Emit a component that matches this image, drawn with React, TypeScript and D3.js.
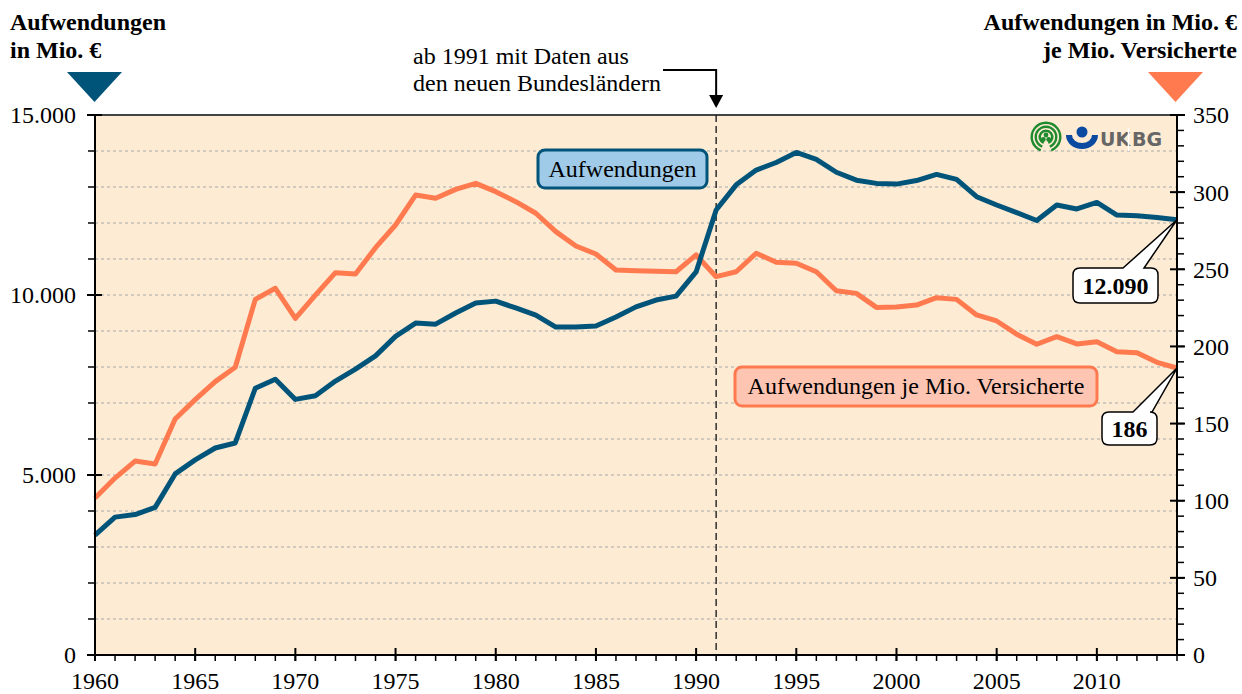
import React from "react";
import * as d3 from "d3";

const years: number[] = d3.range(1960, 2015);
const aufwendungen: number[] = [
  3330, 3830, 3900, 4100, 5030, 5420, 5750, 5890, 7410, 7660,
  7100, 7200, 7610, 7940, 8310, 8850, 9220, 9190, 9500, 9780,
  9830, 9640, 9440, 9110, 9110, 9140, 9390, 9670, 9860, 9970,
  10640, 12360, 13060, 13470, 13680, 13960, 13770, 13410, 13190, 13100,
  13080, 13180, 13350, 13210, 12730, 12500, 12290, 12070, 12500, 12390,
  12570, 12220, 12200, 12150, 12090,
];
const jeVersicherte: number[] = [
  101.8, 114.7, 125.7, 123.8, 153, 165.5, 177.2, 186.5, 230.5, 237.7,
  218.2, 233.3, 247.8, 246.9, 264, 278.7, 298.1, 296, 301.8, 305.7,
  300.3, 293.8, 286.3, 274.4, 265.1, 259.9, 249.5, 249.1, 248.7, 248.4,
  259.3, 245.2, 248.4, 260.4, 254.5, 253.9, 248.4, 236.1, 234.4, 225.3,
  225.5, 226.8, 231.6, 230.5, 220.4, 216.5, 207.9, 201.4, 206.3, 201.6,
  203.1, 196.6, 195.9, 189.7, 186,
];
const leftTicks: number[] = [0, 5000, 10000, 15000];
const leftMinor: number[] = d3.range(0, 15001, 1000);
const rightTicks: number[] = [0, 50, 100, 150, 200, 250, 300, 350];
const rightMinor: number[] = d3.range(0, 351, 10);
const xLabels: number[] = [1960, 1965, 1970, 1975, 1980, 1985, 1990, 1995, 2000, 2005, 2010];
const markerYear = 1991;
const lastBlueLabel = "12.090";
const lastOrangeLabel = "186";

const BLUE = "#00547a";
const ORANGE = "#ff7a4f";
const BG = "#fdebd3";
const FONT = "'Liberation Serif', 'Times New Roman', serif";

const de = d3.formatLocale({ decimal: ",", thousands: ".", grouping: [3], currency: ["", "€"] });
const fmt = de.format(",");

const L = 95, R = 1177, T = 115, B = 655;

function callout(x0: number, y0: number, x1: number, y1: number, a: number, b: number, tx: number, ty: number, r = 7) {
  return `M${x0 + r},${y0} L${a},${y0} L${tx},${ty} L${b},${y0} L${x1 - r},${y0} Q${x1},${y0} ${x1},${y0 + r} L${x1},${y1 - r} Q${x1},${y1} ${x1 - r},${y1} L${x0 + r},${y1} Q${x0},${y1} ${x0},${y1 - r} L${x0},${y0 + r} Q${x0},${y0} ${x0 + r},${y0} Z`;
}

export default function App() {
  const x = d3.scaleLinear().domain([1960, 2014]).range([L, R]);
  const yL = d3.scaleLinear().domain([0, 15000]).range([B, T]);
  const yR = d3.scaleLinear().domain([0, 350]).range([B, T]);

  const blueLine = d3.line<number>().x((_, i) => x(years[i])).y((d) => yL(d))(aufwendungen) || "";
  const orangeLine = d3.line<number>().x((_, i) => x(years[i])).y((d) => yR(d))(jeVersicherte) || "";

  const lastX = x(years[years.length - 1]);
  const lastBY = yL(aufwendungen[aufwendungen.length - 1]);
  const lastOY = yR(jeVersicherte[jeVersicherte.length - 1]);
  const mx = x(markerYear);

  const fs = 24;

  return (
    <svg width={1242} height={694} style={{ position: "absolute", left: 0, top: 0, background: "#fff" }} fontFamily={FONT}>
      {/* plot background */}
      <rect x={L} y={T} width={R - L} height={B - T} fill={BG} />
      {/* gridlines */}
      {leftMinor.filter((v) => v > 0 && v < 15000).map((v) => (
        <line key={"g" + v} x1={L} x2={R} y1={yL(v)} y2={yL(v)} stroke="#aaa" strokeWidth={1.2} strokeDasharray="3,3" />
      ))}
      {/* top border */}
      <line x1={L} x2={R} y1={T} y2={T} stroke="#444" strokeWidth={2} />

      {/* vertical dashed marker */}
      <line x1={mx} x2={mx} y1={T} y2={B} stroke="#222" strokeWidth={1.4} strokeDasharray="7,4" />

      {/* logo */}
      <g>
        {[15.5, 11.5, 7.5].map((r, i) => (
          <path key={"ring" + i}
            d={d3.arc()({ innerRadius: r - 2.4, outerRadius: r, startAngle: -Math.PI * 0.88, endAngle: Math.PI * 0.88 }) || ""}
            transform="translate(1046,137)" fill="#1f8a2e" />
        ))}
        <circle cx={1046} cy={135} r={2.4} fill="#1f8a2e" />
        <circle cx={1043.3} cy={139.5} r={2.4} fill="#1f8a2e" />
        <circle cx={1048.7} cy={139.5} r={2.4} fill="#1f8a2e" />
        <circle cx={1082} cy={132} r={5.5} fill="#0a4aa0" />
        <path d="M1066,135 A16,14 0 0 0 1098,135 L1092,135 A10,8 0 0 1 1072,135 Z" fill="#0a4aa0" />
        <text x={1100} y={146} fontFamily="'DejaVu Sans', sans-serif" fontWeight="bold" fontSize={19} fill="#666">UK</text>
        <line x1={1128.5} x2={1128.5} y1={128} y2={151} stroke="#fff" strokeWidth={1.5} />
        <text x={1132} y={146} fontFamily="'DejaVu Sans', sans-serif" fontWeight="bold" fontSize={19} fill="#666">BG</text>
      </g>

      {/* lines */}
      <path d={orangeLine} fill="none" stroke={ORANGE} strokeWidth={5} strokeLinejoin="round" />
      <path d={blueLine} fill="none" stroke={BLUE} strokeWidth={5} strokeLinejoin="round" />

      {/* left axis */}
      <line x1={L} x2={L} y1={T} y2={B} stroke="#000" strokeWidth={2} />
      {leftMinor.map((v) => (
        <line key={"lm" + v} x1={L - 7} x2={L} y1={yL(v)} y2={yL(v)} stroke="#000" strokeWidth={1.5} />
      ))}
      {leftTicks.map((v) => (
        <g key={"lt" + v}>
          <line x1={L - 8} x2={L + 7} y1={yL(v)} y2={yL(v)} stroke="#000" strokeWidth={2} />
          <text x={76} y={yL(v)} dy="0.35em" textAnchor="end" fontSize={fs}>{fmt(v)}</text>
        </g>
      ))}

      {/* right axis */}
      <line x1={R} x2={R} y1={T} y2={B} stroke="#000" strokeWidth={2} />
      {rightMinor.map((v) => (
        <line key={"rm" + v} x1={R} x2={R + 7} y1={yR(v)} y2={yR(v)} stroke="#000" strokeWidth={1.5} />
      ))}
      {rightTicks.map((v) => (
        <g key={"rt" + v}>
          <line x1={R - 7} x2={R + 8} y1={yR(v)} y2={yR(v)} stroke="#000" strokeWidth={2} />
          <text x={1193} y={yR(v)} dy="0.35em" textAnchor="start" fontSize={fs}>{v}</text>
        </g>
      ))}

      {/* bottom axis */}
      <line x1={L} x2={R} y1={B} y2={B} stroke="#000" strokeWidth={2} />
      {years.map((yr) => (
        <line key={"xm" + yr} x1={x(yr)} x2={x(yr)} y1={B} y2={B + 6} stroke="#000" strokeWidth={1.5} />
      ))}
      {xLabels.map((yr) => (
        <g key={"xl" + yr}>
          <line x1={x(yr)} x2={x(yr)} y1={B - 7} y2={B + 6} stroke="#000" strokeWidth={2} />
          <text x={x(yr)} y={689} textAnchor="middle" fontSize={fs}>{yr}</text>
        </g>
      ))}

      {/* series labels */}
      <rect x={538} y={150} width={169} height={38} rx={7} fill="#9fcae8" stroke={BLUE} strokeWidth={3} />
      <text x={622.5} y={177} textAnchor="middle" fontSize={fs}>Aufwendungen</text>
      <rect x={735} y={367} width={362} height={39} rx={7} fill="#ffc5b3" stroke={ORANGE} strokeWidth={3} />
      <text x={916} y={394} textAnchor="middle" fontSize={fs}>Aufwendungen je Mio. Versicherte</text>

      {/* callouts */}
      <path d={callout(1073, 268, 1158, 303, 1123, 1144, lastX, lastBY)} fill="#fff" stroke="#000" strokeWidth={1.5} />
      <text x={1115.5} y={294} textAnchor="middle" fontSize={fs} fontWeight="bold">{lastBlueLabel}</text>
      <path d={callout(1102, 412, 1157, 445, 1133, 1152, lastX, lastOY)} fill="#fff" stroke="#000" strokeWidth={1.5} />
      <text x={1129.5} y={437} textAnchor="middle" fontSize={fs} fontWeight="bold">{lastOrangeLabel}</text>

      {/* titles */}
      <text x={10} y={30} fontSize={fs} fontWeight="bold">Aufwendungen</text>
      <text x={10} y={58} fontSize={fs} fontWeight="bold">in Mio. €</text>
      <path d="M67,72 L122,72 L94.5,102 Z" fill={BLUE} />
      <text x={1237} y={30} fontSize={fs} fontWeight="bold" textAnchor="end">Aufwendungen in Mio. €</text>
      <text x={1237} y={58} fontSize={fs} fontWeight="bold" textAnchor="end">je Mio. Versicherte</text>
      <path d="M1148,72 L1203,72 L1175.5,102 Z" fill={ORANGE} />

      {/* annotation */}
      <text x={413} y={64} textAnchor="start" fontSize={fs}>ab 1991 mit Daten aus</text>
      <text x={413} y={91} textAnchor="start" fontSize={fs}>den neuen Bundesländern</text>
      <path d={`M663,70 L${mx},70 L${mx},98`} fill="none" stroke="#000" strokeWidth={2} />
      <path d={`M${mx - 7},95 L${mx + 7},95 L${mx},108 Z`} fill="#000" />
    </svg>
  );
}
